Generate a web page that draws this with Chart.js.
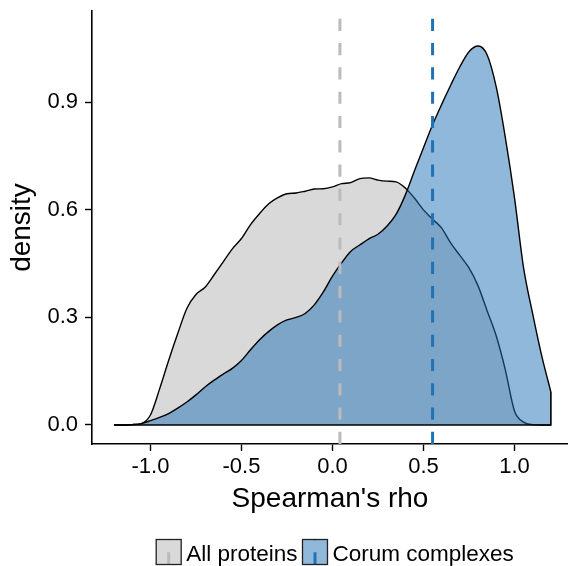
<!DOCTYPE html>
<html>
<head>
<meta charset="utf-8">
<script src="https://cdn.jsdelivr.net/npm/chart.js@4.4.1/dist/chart.umd.min.js"></script>
<style>
  body { margin: 0; background: #fff; }
  canvas { display: block; }
</style>
</head>
<body>
<canvas id="density-chart" width="568" height="566"></canvas>
<script>
// density estimates, on a 0.05 grid of Spearman's rho
var rhoGrid = [
    -1.2, -1.15, -1.1, -1.05, -1.0, -0.95, -0.9, -0.85, -0.8, -0.75,
    -0.7, -0.65, -0.6, -0.55, -0.5, -0.45, -0.4, -0.35, -0.3, -0.25,
    -0.2, -0.15, -0.1, -0.05, 0.0, 0.05, 0.1, 0.15, 0.2, 0.25,
    0.3, 0.35, 0.4, 0.45, 0.5, 0.55, 0.6, 0.65, 0.7, 0.75,
    0.8, 0.85, 0.9, 0.95, 1.0, 1.05, 1.1, 1.15, 1.2
];
var allDensity = [
    0, 0, 0.001, 0.004, 0.028, 0.1, 0.18, 0.255, 0.325, 0.364,
    0.384, 0.419, 0.455, 0.491, 0.52, 0.559, 0.59, 0.617, 0.634, 0.645,
    0.647, 0.652, 0.658, 0.659, 0.664, 0.673, 0.676, 0.687, 0.689, 0.683,
    0.68, 0.678, 0.661, 0.633, 0.6, 0.574, 0.549, 0.507, 0.473, 0.438,
    0.388, 0.318, 0.248, 0.153, 0.039, 0.008, 0.001, 0, 0
];
var corumDensity = [
    0, 0, 0.001, 0.004, 0.012, 0.021, 0.032, 0.047, 0.064, 0.084,
    0.106, 0.125, 0.142, 0.158, 0.18, 0.21, 0.238, 0.261, 0.28, 0.293,
    0.3, 0.311, 0.335, 0.371, 0.415, 0.452, 0.484, 0.502, 0.519, 0.532,
    0.555, 0.588, 0.641, 0.708, 0.773, 0.837, 0.894, 0.948, 0.999, 1.041,
    1.057, 1.032, 0.942, 0.801, 0.634, 0.438, 0.31, 0.192, 0.092
];
var groupNames = ["All proteins", "Corum complexes"];
var groupMeans = [0.041, 0.55];
var xTicks = [-1.0, -0.5, 0.0, 0.5, 1.0];
var yTicks = [0.0, 0.3, 0.6, 0.9];

var fillColors = ["#D9D9D9", "rgba(33,113,181,0.5)"];
var meanColors = ["#BBBBBB", "#2171B5"];
var xMin = -1.321, xMax = 1.294;
var yMin = -0.053, yMax = 1.1545;

function toPoints(xs, ys) {
    return xs.map(function(x, i) { return {x: x, y: ys[i]}; });
}

var last = rhoGrid.length - 1;

var datasets = [
    {
        label: groupNames[1],
        data: toPoints(rhoGrid, corumDensity),
        fill: 'origin',
        backgroundColor: fillColors[1],
        borderColor: '#000',
        borderWidth: 1.4,
        cubicInterpolationMode: 'monotone',
        order: 2
    },
    {
        label: groupNames[0],
        data: toPoints(rhoGrid, allDensity),
        fill: 'origin',
        backgroundColor: fillColors[0],
        borderColor: '#000',
        borderWidth: 1.4,
        cubicInterpolationMode: 'monotone',
        order: 3
    },
    {
        // bottom and right edge of the density outlines
        label: 'outline',
        data: [
            {x: rhoGrid[0], y: 0},
            {x: rhoGrid[last], y: 0},
            {x: rhoGrid[last], y: corumDensity[last]}
        ],
        fill: false,
        borderColor: '#000',
        borderWidth: 1.6,
        order: 1
    }
];

groupMeans.forEach(function(m, i) {
    datasets.push({
        label: groupNames[i] + ' mean',
        data: [{x: m, y: yMin}, {x: m, y: yMax}],
        fill: false,
        borderColor: meanColors[i],
        borderWidth: 3,
        borderDash: [12.15, 12.15],
        order: 0
    });
});

var keyLegend = {
    id: 'keyLegend',
    afterDraw: function(chart) {
        var ctx = chart.ctx;
        var area = chart.chartArea;
        var box = 25, gap = 5, top = 539.5;
        ctx.save();
        ctx.font = '22.5px "Liberation Sans", Arial, sans-serif';
        var widths = groupNames.map(function(n) { return ctx.measureText(n).width; });
        var total = 0;
        widths.forEach(function(w) { total += box + gap + w; });
        total += gap * (groupNames.length - 1);
        var x = (area.left + area.right) / 2 + 5 - total / 2;
        groupNames.forEach(function(name, i) {
            ctx.fillStyle = '#fff';
            ctx.fillRect(x, top, box, box);
            ctx.fillStyle = fillColors[i];
            ctx.fillRect(x, top, box, box);
            ctx.setLineDash([12.15, 12.15]);
            ctx.strokeStyle = meanColors[i];
            ctx.lineWidth = 3;
            ctx.beginPath();
            ctx.moveTo(x + box / 2, top + box);
            ctx.lineTo(x + box / 2, top);
            ctx.stroke();
            ctx.setLineDash([]);
            ctx.strokeStyle = '#222';
            ctx.lineWidth = 1.3;
            ctx.strokeRect(x, top, box, box);
            ctx.fillStyle = '#000';
            ctx.textBaseline = 'alphabetic';
            ctx.fillText(name, x + box + gap, top + 21);
            x += box + gap + widths[i] + gap;
        });
        ctx.restore();
    }
};

Chart.defaults.font.family = '"Liberation Sans", Arial, sans-serif';
Chart.defaults.color = '#000';

var ctx = document.getElementById("density-chart").getContext("2d");
var chart = new Chart(ctx, {
    type: 'scatter',
    data: {datasets: datasets},
    options: {
        responsive: false,
        animation: false,
        showLine: true,
        elements: {point: {radius: 0, hoverRadius: 0}},
        layout: {padding: {top: 11, bottom: 46, left: 0, right: 0}},
        plugins: {
            legend: {display: false},
            tooltip: {enabled: false}
        },
        scales: {
            x: {
                type: 'linear',
                min: xMin,
                max: xMax,
                afterBuildTicks: function(scale) {
                    scale.ticks = xTicks.map(function(v) { return {value: v}; });
                },
                afterFit: function(scale) {
                    scale.height = 76;
                    scale.paddingLeft = 0;
                    scale.paddingRight = 0;
                },
                ticks: {
                    font: {size: 22},
                    color: '#000',
                    padding: 3,
                    callback: function(v) { return v.toFixed(1); }
                },
                grid: {
                    drawOnChartArea: false,
                    color: '#000',
                    tickLength: 7,
                    tickWidth: 1.4
                },
                border: {color: '#000', width: 1.6},
                title: {
                    display: true,
                    text: "Spearman's rho",
                    font: {size: 28},
                    color: '#000',
                    padding: {top: 0, bottom: 4}
                }
            },
            y: {
                type: 'linear',
                min: yMin,
                max: yMax,
                afterBuildTicks: function(scale) {
                    scale.ticks = yTicks.map(function(v) { return {value: v}; });
                },
                afterFit: function(scale) {
                    scale.width = 92;
                    scale.paddingTop = 0;
                    scale.paddingBottom = 0;
                },
                ticks: {
                    font: {size: 22},
                    color: '#000',
                    padding: 7,
                    callback: function(v) { return v.toFixed(1); }
                },
                grid: {
                    drawOnChartArea: false,
                    color: '#000',
                    tickLength: 7,
                    tickWidth: 1.4
                },
                border: {color: '#000', width: 1.6},
                title: {
                    display: true,
                    text: 'density',
                    font: {size: 28},
                    color: '#000',
                    padding: {top: 5, bottom: 0}
                }
            }
        }
    },
    plugins: [keyLegend]
});
</script>
</body>
</html>
